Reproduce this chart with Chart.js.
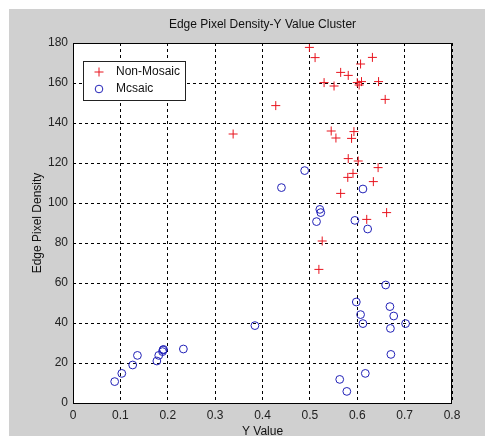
<!DOCTYPE html>
<html>
<head>
<meta charset="utf-8">
<script src="https://cdn.jsdelivr.net/npm/chart.js@4.4.1/dist/chart.umd.min.js"></script>
<style>
  html, body { margin: 0; padding: 0; background: #fff; }
  canvas { display: block; }
</style>
</head>
<body>
<canvas id="chart" width="485" height="441"></canvas>
<script>
  // data
  const nonMosaicX = [0.338, 0.428, 0.499, 0.511, 0.607, 0.632, 0.565, 0.581, 0.530, 0.551,
    0.600, 0.604, 0.609, 0.645, 0.659, 0.545, 0.555, 0.593, 0.588, 0.581,
    0.602, 0.644, 0.591, 0.580, 0.634, 0.565, 0.662, 0.620, 0.526, 0.519];
  const nonMosaicY = [134.5, 148.7, 177.8, 172.7, 169.5, 172.8, 165.3, 163.8, 160.2, 158.5,
    160.2, 159.0, 160.7, 160.7, 151.8, 136.0, 132.5, 135.7, 132.3, 122.2,
    121.0, 117.7, 114.8, 112.8, 110.7, 104.8, 95.2, 91.8, 81.0, 66.8];

  const mosaicX = [0.489, 0.440, 0.612, 0.521, 0.523, 0.514, 0.595, 0.622, 0.660, 0.598,
    0.669, 0.607, 0.677, 0.612, 0.702, 0.670, 0.671, 0.617, 0.563, 0.578,
    0.384, 0.233, 0.190, 0.189, 0.191, 0.181, 0.177, 0.136, 0.126, 0.103, 0.088];
  const mosaicY = [116.2, 107.7, 107.0, 96.8, 95.2, 90.7, 91.3, 87.0, 59.0, 50.5,
    48.2, 44.2, 43.5, 39.7, 39.7, 37.3, 24.3, 14.8, 11.8, 5.8,
    38.7, 27.0, 26.5, 25.7, 26.8, 23.8, 21.0, 23.8, 19.0, 14.8, 10.7];

  const xTickLabels = ['0', '0.1', '0.2', '0.3', '0.4', '0.5', '0.6', '0.7', '0.8'];
  const yTickLabels = ['0', '20', '40', '60', '80', '100', '120', '140', '160', '180'];
  const seriesNames = ['Non-Mosaic', 'Mcsaic'];

  const FONT = "'Liberation Sans', Arial, sans-serif";
  const RED = '#e8141e';
  const BLUE = '#2222b8';

  function toPoints(xs, ys) {
    return xs.map((x, i) => ({ x: x, y: ys[i] }));
  }

  // gray figure background, plot frame, title and legend box
  const figurePlugin = {
    id: 'figure',
    beforeDraw(chart) {
      const c = chart.ctx;
      const a = chart.chartArea;
      c.save();
      c.fillStyle = '#ffffff';
      c.fillRect(0, 0, chart.width, chart.height);
      c.fillStyle = '#d0d0d0';
      c.fillRect(9, 9, chart.width - 9, 427);
      c.fillStyle = '#ffffff';
      c.fillRect(a.left, a.top, a.right - a.left, a.bottom - a.top);
      c.restore();
    },
    afterDraw(chart) {
      const c = chart.ctx;
      const a = chart.chartArea;
      c.save();
      // frame
      c.strokeStyle = '#000';
      c.lineWidth = 1;
      c.setLineDash([]);
      c.strokeRect(Math.round(a.left) + 0.5, Math.round(a.top) + 0.5,
        Math.round(a.right - a.left) - 1, Math.round(a.bottom - a.top));
      // title
      c.fillStyle = '#111';
      c.font = '12px ' + FONT;
      c.textAlign = 'center';
      c.textBaseline = 'middle';
      c.fillText('Edge Pixel Density-Y Value Cluster', (a.left + a.right) / 2, 25);
      // legend
      const bx = 83, by = 61, bw = 102, bh = 39;
      c.fillStyle = '#fff';
      c.fillRect(bx, by, bw, bh);
      c.strokeStyle = '#222';
      c.strokeRect(bx + 0.5, by + 0.5, bw, bh);
      chart.data.datasets.forEach((ds, i) => {
        const ly = by + 11 + i * 17;
        c.strokeStyle = ds.borderColor;
        c.lineWidth = 1;
        c.beginPath();
        if (ds.pointStyle === 'cross') {
          c.moveTo(99 - 4.5, ly); c.lineTo(99 + 4.5, ly);
          c.moveTo(99, ly - 4.5); c.lineTo(99, ly + 4.5);
        } else {
          c.arc(99, ly, 3.8, 0, Math.PI * 2);
        }
        c.stroke();
        c.fillStyle = '#111';
        c.textAlign = 'left';
        c.fillText(ds.label, 116, ly);
      });
      c.restore();
    }
  };

  new Chart(document.getElementById('chart'), {
    type: 'scatter',
    data: {
      datasets: [
        {
          label: seriesNames[0],
          data: toPoints(nonMosaicX, nonMosaicY),
          pointStyle: 'cross',
          radius: 4.5,
          borderColor: RED,
          backgroundColor: RED,
          borderWidth: 1
        },
        {
          label: seriesNames[1],
          data: toPoints(mosaicX, mosaicY),
          pointStyle: 'circle',
          radius: 3.9,
          borderColor: BLUE,
          backgroundColor: 'rgba(0,0,0,0)',
          borderWidth: 1
        }
      ]
    },
    options: {
      responsive: false,
      animation: false,
      events: [],
      layout: { padding: { top: 43, right: 33, left: 0, bottom: 0 } },
      plugins: {
        legend: { display: false },
        tooltip: { enabled: false },
        title: { display: false }
      },
      scales: {
        x: {
          type: 'linear',
          min: 0, max: 0.8,
          afterFit(scale) { scale.height = 38; },
          ticks: {
            stepSize: 0.1,
            padding: 5,
            color: '#222',
            font: { size: 12, family: FONT },
            maxRotation: 0,
            callback: (v, i) => xTickLabels[i]
          },
          grid: { color: '#000', lineWidth: 1, drawTicks: false },
          border: { display: false, dash: [3, 3] },
          title: {
            display: true, text: 'Y Value', color: '#111',
            font: { size: 12, family: FONT }, padding: { top: 0, bottom: 2 }
          }
        },
        y: {
          type: 'linear',
          min: 0, max: 180,
          afterFit(scale) { scale.width = 73; },
          ticks: {
            stepSize: 20,
            padding: 5,
            color: '#222',
            font: { size: 12, family: FONT },
            callback: (v, i) => yTickLabels[i]
          },
          grid: { color: '#000', lineWidth: 1, drawTicks: false },
          border: { display: false, dash: [3, 3] },
          title: {
            display: true, text: 'Edge Pixel Density', color: '#111',
            font: { size: 12, family: FONT }, padding: { top: 30, bottom: 0 }
          }
        }
      }
    },
    plugins: [figurePlugin]
  });
</script>
</body>
</html>
